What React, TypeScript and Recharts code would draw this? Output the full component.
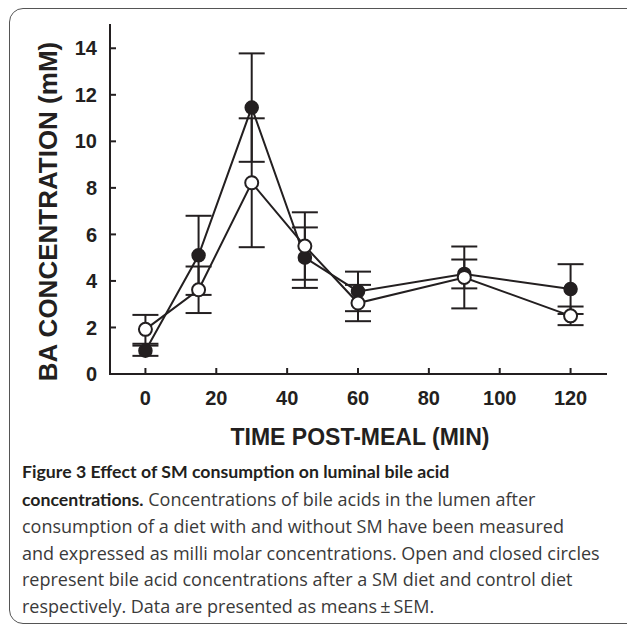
import React from "react";
import { ErrorBar, Line, LineChart, XAxis, YAxis } from "recharts";

const times = [0, 15, 30, 45, 60, 90, 120];
const controlMeans = [1.0, 5.1, 11.45, 5.0, 3.55, 4.3, 3.65];
const controlSem = [0.22, 1.7, 2.33, 1.3, 0.85, 0.62, 1.07];
const smMeans = [1.92, 3.62, 8.22, 5.5, 3.05, 4.15, 2.5];
const smSem = [0.62, 1.0, 2.77, 1.45, 0.78, 1.33, 0.4];
const xTicks = [0, 20, 40, 60, 80, 100, 120];
const yTicks = [0, 2, 4, 6, 8, 10, 12, 14];

const data = times.map((t, i) => ({
  time: t,
  control: controlMeans[i],
  controlErr: controlSem[i],
  sm: smMeans[i],
  smErr: smSem[i],
}));

const ink = "#231f20";
const tickFont = { fontFamily: "'Liberation Sans', Arial, sans-serif", fontWeight: 700, fontSize: 20, fill: ink };
const titleFont = { fontFamily: "'Liberation Sans', Arial, sans-serif", fontWeight: 700, fill: ink };
const axisLine = { stroke: ink, strokeWidth: 2, strokeLinecap: "square" as const };

const captionLines: { bold?: string; text?: string }[] = [
  { bold: "Figure 3 Effect of SM consumption on luminal bile acid" },
  { bold: "concentrations.", text: " Concentrations of bile acids in the lumen after" },
  { text: "consumption of a diet with and without SM have been measured" },
  { text: "and expressed as milli molar concentrations. Open and closed circles" },
  { text: "represent bile acid concentrations after a SM diet and control diet" },
  { text: "respectively. Data are presented as means\u2009\u00b1\u2009SEM." },
];

function YTitle(props: any) {
  const vb = props.viewBox;
  const cx = vb.x + vb.width / 2 - 7;
  const cy = vb.y + vb.height / 2 + 12;
  return (
    <text x={cx} y={cy} transform={`rotate(-90 ${cx} ${cy})`} textAnchor="middle" dominantBaseline="central" fontSize={26} style={titleFont}>
      BA CONCENTRATION (mM)
    </text>
  );
}

function XTitle(props: any) {
  const vb = props.viewBox;
  const cx = vb.x + vb.width / 2 + 2;
  const cy = vb.y + 63;
  return (
    <text x={cx} y={cy} textAnchor="middle" dominantBaseline="central" fontSize={23} style={titleFont}>
      TIME POST-MEAL (MIN)
    </text>
  );
}

export default function App() {
  return (
    <div style={{ position: "absolute", left: 0, top: 0, width: 627, height: 625, overflow: "hidden", background: "#fff" }}>
      <div
        style={{
          position: "absolute",
          left: 9,
          top: 8,
          width: 660,
          height: 614,
          border: "1.5px solid #555",
          borderRadius: 14,
        }}
      />
      <div style={{ position: "absolute", left: 0, top: 0 }}>
        <LineChart width={627} height={460} data={data} margin={{ top: 25, right: 21, bottom: 0, left: 0 }}>
          <XAxis
            dataKey="time"
            type="number"
            domain={[-10, 130]}
            ticks={xTicks}
            height={86}
            tickSize={-6}
            tickMargin={23}
            axisLine={axisLine}
            tickLine={{ stroke: ink, strokeWidth: 2 }}
            tick={tickFont}
            label={{ content: (p: any) => <XTitle {...p} /> }}
          />
          <XAxis xAxisId="top" orientation="top" type="number" domain={[-10, 130]} height={0} tick={false} tickLine={false} axisLine={axisLine} />
          <YAxis
            type="number"
            domain={[0, 15]}
            ticks={yTicks}
            width={110}
            tickSize={-6}
            tickMargin={19}
            axisLine={axisLine}
            tickLine={{ stroke: ink, strokeWidth: 2 }}
            tick={tickFont}
            label={{ content: (p: any) => <YTitle {...p} /> }}
          />
          <YAxis
            yAxisId="right"
            orientation="right"
            type="number"
            domain={[0, 15]}
            ticks={yTicks}
            width={0}
            tickSize={-6}
            tick={false}
            axisLine={axisLine}
            tickLine={{ stroke: ink, strokeWidth: 2 }}
          />
          <Line
            dataKey="control"
            type="linear"
            stroke={ink}
            strokeWidth={2}
            dot={{ r: 6.5, fill: ink, stroke: ink, strokeWidth: 1.5 }}
            activeDot={false}
            isAnimationActive={false}
          >
            <ErrorBar dataKey="controlErr" width={13} stroke={ink} strokeWidth={2} direction="y" isAnimationActive={false} />
          </Line>
          <Line
            dataKey="sm"
            type="linear"
            stroke={ink}
            strokeWidth={2}
            dot={{ r: 6.5, fill: "#fff", stroke: ink, strokeWidth: 2 }}
            activeDot={false}
            isAnimationActive={false}
          >
            <ErrorBar dataKey="smErr" width={13} stroke={ink} strokeWidth={2} direction="y" isAnimationActive={false} />
          </Line>
        </LineChart>
      </div>
      <div
        style={{
          position: "absolute",
          left: 22,
          top: 458,
          fontFamily: "'Open Sans', Lato, sans-serif",
          fontSize: 18,
          lineHeight: "26.5px",
          color: "#3a3a3a",
          whiteSpace: "nowrap",
        }}
      >
        {captionLines.map((l, i) => (
          <div key={i}>
            {l.bold && <span style={{ fontFamily: "Lato, sans-serif", fontSize: 17.7, fontWeight: 700, color: ink }}>{l.bold}</span>}
            {l.text}
          </div>
        ))}
      </div>
    </div>
  );
}
